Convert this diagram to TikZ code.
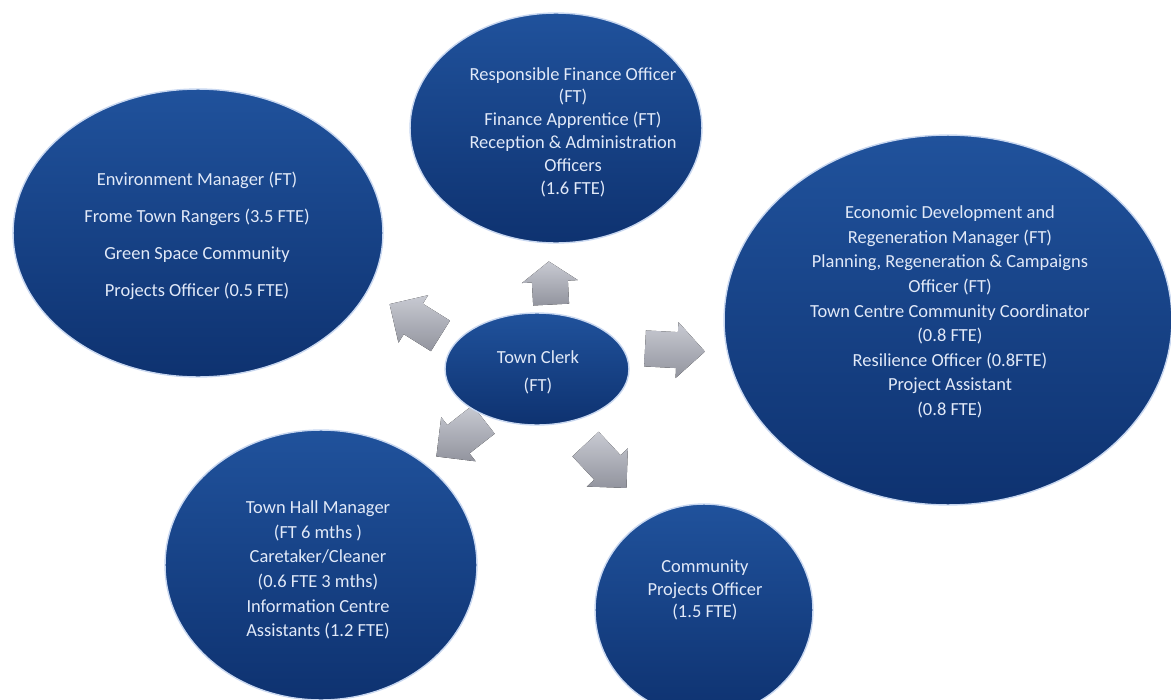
\documentclass[tikz,border=0pt]{standalone}
\usepackage{fontspec}
\setmainfont{Carlito}
\usetikzlibrary{shapes.geometric}
\definecolor{unitlight}{RGB}{32,82,156}
\definecolor{unitdark}{RGB}{14,50,112}
\definecolor{unitrim}{RGB}{200,215,240}
\definecolor{unittext}{RGB}{225,233,248}
\definecolor{linklight}{RGB}{200,202,210}
\definecolor{linkdark}{RGB}{146,148,158}

\begin{document}
\begin{tikzpicture}[x=0.02cm, y=-0.02cm,
    unit/.style={ellipse, draw=unitrim, line width=0.8pt, top color=unitlight, bottom color=unitdark, inner sep=0pt},
    unitlabel/.style={text=unittext, align=center, font=\fontsize{10.5}{13}\selectfont},
    pics/link/.style={code={
        \fill[top color=linklight, bottom color=linkdark]
            (-0.6cm,-0.36cm) -- (0.04cm,-0.36cm) -- (0.04cm,-0.56cm) -- (0.6cm,0cm)
            -- (0.04cm,0.56cm) -- (0.04cm,0.36cm) -- (-0.6cm,0.36cm) -- cycle;}}]

    % Canvas (pixels of the reference)
    \useasboundingbox (0,0) rectangle (1171,700);

    % --- Gray arrows round the Town Clerk ---
    \pic[rotate=93, xscale=0.72] (toFinance) at (550,283) {link};
    \pic[rotate=148] (toEnv)       at (415,320) {link};
    \pic[rotate=-3]  (toEcon)      at (675,350) {link};
    \pic[rotate=218] (toHall)      at (460,438) {link};
    \pic[rotate=-47] (toCommunity) at (606,466) {link};

    % --- Units ---
    \node[unit, minimum width=3.68cm, minimum height=2.24cm] (clerk)     at (537,369) {};
    \node[unit, minimum width=5.84cm, minimum height=4.6cm]  (finance)   at (556,128) {};
    \node[unit, minimum width=7.4cm,  minimum height=5.76cm] (env)       at (198,233) {};
    \node[unit, minimum width=8.96cm, minimum height=7.4cm]  (econ)      at (948,320) {};
    \node[unit, minimum width=6.24cm, minimum height=5.4cm]  (hall)      at (321,565) {};
    \node[unit, minimum width=4.36cm, minimum height=4.24cm] (community) at (704,610) {};

    % --- Texts ---
    \node[unitlabel, font=\fontsize{10.5}{16}\selectfont] (clerkText) at (538,372)
        {Town Clerk\\(FT)};
    \node[unitlabel] (financeText) at (573,132)
        {Responsible Finance Officer\\(FT)\\Finance Apprentice (FT)\\Reception \& Administration\\Officers\\(1.6 FTE)};
    \node[unitlabel, font=\fontsize{10.5}{21}\selectfont] (envText) at (197,236)
        {Environment Manager (FT)\\Frome Town Rangers (3.5 FTE)\\Green Space Community\\Projects Officer (0.5 FTE)};
    \node[unitlabel, font=\fontsize{10.5}{14}\selectfont] (econText) at (950,312)
        {Economic Development and\\Regeneration Manager (FT)\\Planning, Regeneration \& Campaigns\\Officer (FT)\\Town Centre Community Coordinator\\(0.8 FTE)\\Resilience Officer (0.8FTE)\\Project Assistant\\(0.8 FTE)};
    \node[unitlabel, font=\fontsize{10.5}{14}\selectfont] (hallText) at (318,570)
        {Town Hall Manager\\(FT 6 mths )\\Caretaker/Cleaner\\(0.6 FTE 3 mths)\\Information Centre\\Assistants (1.2 FTE)};
    \node[unitlabel] (communityText) at (705,590)
        {Community\\Projects Officer\\(1.5 FTE)};
\end{tikzpicture}
\end{document}
